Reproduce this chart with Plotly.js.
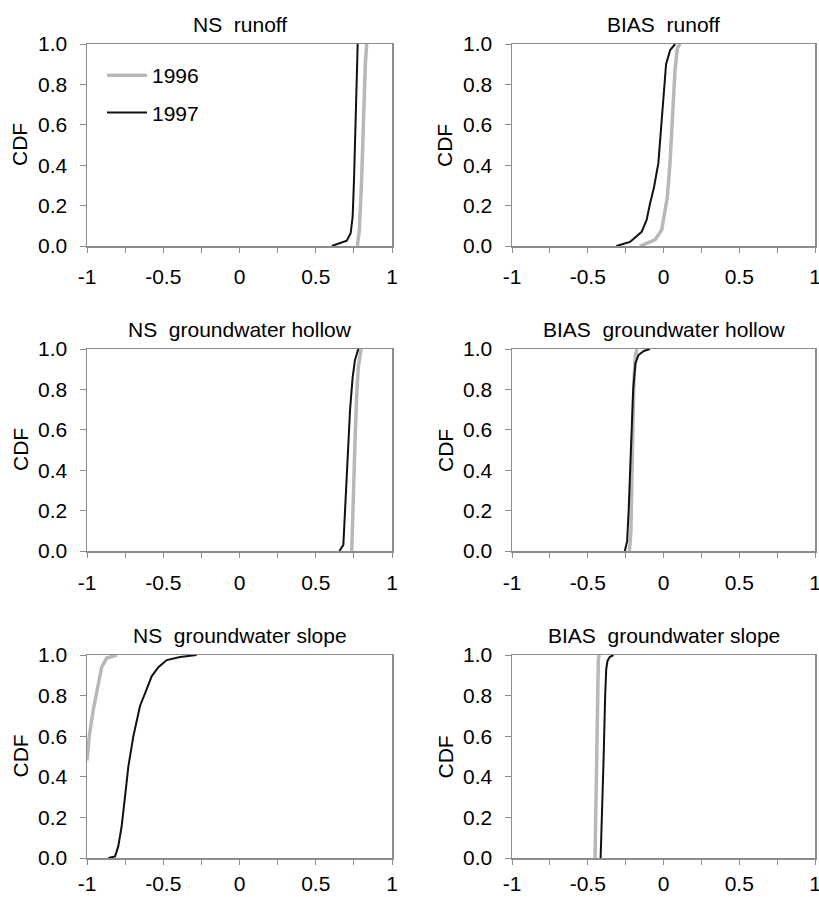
<!DOCTYPE html>
<html>
<head>
<meta charset="utf-8">
<script src="https://cdn.plot.ly/plotly-3.0.1.min.js"></script>
<style>html,body{margin:0;padding:0;background:#fff;}#chart{width:819px;height:897px;}</style>
</head>
<body>
<div id="chart"></div>
<script>
// ---- data ----
const panelTitles = ["NS\u00a0 runoff", "BIAS\u00a0 runoff", "NS\u00a0 groundwater hollow", "BIAS\u00a0 groundwater hollow", "NS\u00a0 groundwater slope", "BIAS\u00a0 groundwater slope"];
const seriesNames = ["1996", "1997"];
const xTickVals = [-1, -0.75, -0.5, -0.25, 0, 0.25, 0.5, 0.75, 1];
const xTickText = ["-1", "", "-0.5", "", "0", "", "0.5", "", "1"];
const yTickVals = [0, 0.2, 0.4, 0.6, 0.8, 1.0];

const nsRunoff1996X = [0.773, 0.786, 0.801, 0.812, 0.825, 0.834];
const nsRunoff1996Y = [0, 0.08, 0.33, 0.66, 0.90, 1.0];
const nsRunoff1997X = [0.605, 0.659, 0.703, 0.729, 0.742, 0.751, 0.760, 0.768, 0.775];
const nsRunoff1997Y = [0, 0.013, 0.026, 0.063, 0.145, 0.33, 0.57, 0.87, 1.0];

const biasRunoff1996X = [-0.156, -0.111, -0.056, -0.012, 0.025, 0.043, 0.061, 0.076, 0.091, 0.109];
const biasRunoff1996Y = [0, 0.013, 0.03, 0.08, 0.24, 0.41, 0.66, 0.87, 0.98, 1.0];
const biasRunoff1997X = [-0.311, -0.221, -0.144, -0.111, -0.089, -0.063, -0.034, -0.017, 0.0, 0.017, 0.044, 0.077];
const biasRunoff1997Y = [0, 0.02, 0.07, 0.13, 0.21, 0.29, 0.41, 0.57, 0.77, 0.90, 0.97, 1.0];

const nsHollow1996X = [0.736, 0.746, 0.757, 0.769, 0.779, 0.797];
const nsHollow1996Y = [0, 0.20, 0.53, 0.78, 0.91, 1.0];
const nsHollow1997X = [0.655, 0.681, 0.692, 0.707, 0.725, 0.742, 0.757, 0.779];
const nsHollow1997Y = [0, 0.03, 0.20, 0.45, 0.70, 0.86, 0.945, 1.0];

const biasHollow1996X = [-0.225, -0.215, -0.205, -0.195, -0.185, -0.175];
const biasHollow1996Y = [0, 0.1, 0.5, 0.85, 0.97, 1.0];
const biasHollow1997X = [-0.255, -0.24, -0.23, -0.215, -0.2, -0.185, -0.165, -0.13, -0.09];
const biasHollow1997Y = [0, 0.05, 0.2, 0.5, 0.8, 0.93, 0.97, 0.99, 1.0];

const nsSlope1996X = [-1.0, -0.985, -0.959, -0.926, -0.904, -0.871, -0.805];
const nsSlope1996Y = [0.48, 0.60, 0.73, 0.86, 0.94, 0.985, 1.0];
const nsSlope1997X = [-0.860, -0.816, -0.795, -0.773, -0.751, -0.729, -0.696, -0.652, -0.620, -0.576, -0.532, -0.477, -0.39, -0.281];
const nsSlope1997Y = [0, 0.008, 0.057, 0.155, 0.30, 0.45, 0.60, 0.75, 0.81, 0.895, 0.94, 0.975, 0.99, 1.0];

const biasSlope1996X = [-0.452, -0.445, -0.44, -0.435, -0.43, -0.424];
const biasSlope1996Y = [0, 0.3, 0.6, 0.9, 0.98, 1.0];
const biasSlope1997X = [-0.415, -0.405, -0.395, -0.385, -0.378, -0.37, -0.355, -0.33];
const biasSlope1997Y = [0, 0.2, 0.5, 0.8, 0.93, 0.97, 0.99, 1.0];

const panels = [
  [[nsRunoff1996X, nsRunoff1996Y], [nsRunoff1997X, nsRunoff1997Y]],
  [[biasRunoff1996X, biasRunoff1996Y], [biasRunoff1997X, biasRunoff1997Y]],
  [[nsHollow1996X, nsHollow1996Y], [nsHollow1997X, nsHollow1997Y]],
  [[biasHollow1996X, biasHollow1996Y], [biasHollow1997X, biasHollow1997Y]],
  [[nsSlope1996X, nsSlope1996Y], [nsSlope1997X, nsSlope1997Y]],
  [[biasSlope1996X, biasSlope1996Y], [biasSlope1997X, biasSlope1997Y]]
];

// ---- layout geometry ----
const W = 819, H = 897;
const colPx = [[87, 392], [512, 815]];
const rowPx = [[44, 246], [349, 551], [655, 858]];
const rowLabelStandoff = [6, 7, 1];
const FONT = "Liberation Sans, Arial, Helvetica, sans-serif";
const FS = 21;
const frameColor = "#8c8c8c";
const styles = [
  {color: "#b8b8b8", width: 3.5},
  {color: "#111111", width: 2}
];

const traces = [];
const layout = {
  width: W, height: H,
  margin: {l: 0, r: 0, t: 0, b: 0},
  paper_bgcolor: "#ffffff", plot_bgcolor: "#ffffff",
  font: {family: FONT, size: FS, color: "#000"},
  showlegend: true,
  legend: {
    x: 102 / W, xanchor: "left", y: 1 - 55 / H, yanchor: "top",
    bgcolor: "rgba(0,0,0,0)", borderwidth: 0,
    font: {family: FONT, size: FS, color: "#000"},
    traceorder: "grouped", tracegroupgap: 7, itemwidth: 40
  },
  annotations: [],
  shapes: []
};

panels.forEach((p, i) => {
  const r = Math.floor(i / 2), c = i % 2;
  const xa = i === 0 ? "x" : "x" + (i + 1);
  const ya = i === 0 ? "y" : "y" + (i + 1);
  const xk = i === 0 ? "xaxis" : "xaxis" + (i + 1);
  const yk = i === 0 ? "yaxis" : "yaxis" + (i + 1);
  const xd = [colPx[c][0] / W, colPx[c][1] / W];
  const yd = [1 - rowPx[r][1] / H, 1 - rowPx[r][0] / H];
  p.forEach((s, k) => {
    traces.push({
      type: "scatter", mode: "lines",
      x: s[0], y: s[1], xaxis: xa, yaxis: ya,
      name: seriesNames[k], legendgroup: seriesNames[k],
      showlegend: i === 0,
      line: {color: styles[k].color, width: styles[k].width},
      hoverinfo: "skip"
    });
  });
  layout[xk] = {
    domain: xd, anchor: ya, range: [-1, 1],
    tickmode: "array", tickvals: xTickVals, ticktext: xTickText,
    ticks: "outside", ticklen: 5, tickcolor: frameColor, tickwidth: 1,
    ticklabelstandoff: rowLabelStandoff[r], ticklabeloverflow: "allow",
    showline: true, linecolor: frameColor, linewidth: 1.5, mirror: true,
    showgrid: false, zeroline: false, fixedrange: true,
    tickfont: {family: FONT, size: FS, color: "#000"}
  };
  layout[yk] = {
    domain: yd, anchor: xa, range: [0, 1],
    tickmode: "array", tickvals: yTickVals, tickformat: ".1f",
    ticks: "outside", ticklen: 6, tickcolor: frameColor, tickwidth: 1,
    ticklabelstandoff: 8,
    showline: true, linecolor: frameColor, linewidth: 1.5, mirror: true,
    showgrid: false, zeroline: false, fixedrange: true,
    tickfont: {family: FONT, size: FS, color: "#000"}
  };
  layout.annotations.push({
    xref: "paper", yref: "paper",
    x: (xd[0] + xd[1]) / 2, y: yd[1],
    xanchor: "center", yanchor: "bottom", yshift: 6,
    text: panelTitles[i], showarrow: false,
    font: {family: FONT, size: FS, color: "#000"}
  });
  layout.annotations.push({
    xref: "paper", yref: "paper",
    x: (colPx[c][0] - 67) / W, y: (yd[0] + yd[1]) / 2,
    xanchor: "center", yanchor: "middle", textangle: -90,
    text: "CDF", showarrow: false,
    font: {family: FONT, size: FS, color: "#000"}
  });
});

Plotly.newPlot("chart", traces, layout, {displayModeBar: false, staticPlot: true});
</script>
</body>
</html>
